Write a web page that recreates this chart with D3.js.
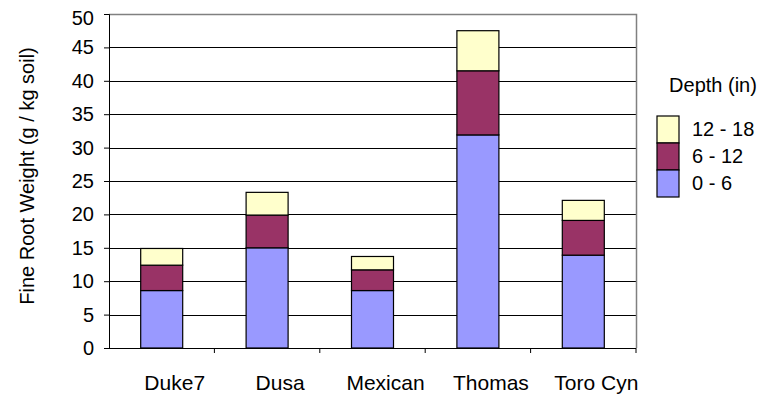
<!DOCTYPE html>
<html>
<head>
<meta charset="utf-8">
<script src="https://cdn.jsdelivr.net/npm/d3@7"></script>
<style>
  body { margin: 0; background: #fff; }
  svg text { font-family: "Liberation Sans", Arial, sans-serif; fill: #000; }
</style>
</head>
<body>
<svg id="chart" width="762" height="397"></svg>
<script>
// chart data
const sites = ["Duke7", "Dusa", "Mexican", "Thomas", "Toro Cyn"];
const depths = ["0 - 6", "6 - 12", "12 - 18"];
const depth0to6 = [8.6, 15.0, 8.6, 31.9, 13.9];
const depth6to12 = [3.8, 4.9, 3.1, 9.6, 5.2];
const depth12to18 = [2.5, 3.4, 2.0, 6.0, 3.0];
const yTicks = [0, 5, 10, 15, 20, 25, 30, 35, 40, 45, 50];
const colors = ["#9999ff", "#993366", "#ffffcc"];

let svg = d3.select("#chart");
let plotLeft = 109, plotRight = 636, plotTop = 14, plotBottom = 348;

let rows = sites.map((s, i) => ({
  site: s,
  "0 - 6": depth0to6[i],
  "6 - 12": depth6to12[i],
  "12 - 18": depth12to18[i]
}));
let stacked = d3.stack().keys(depths)(rows);

let xScale = d3.scaleBand()
  .domain(sites)
  .range([plotLeft, plotRight])
  .paddingInner(0)
  .paddingOuter(0);
let yScale = d3.scaleLinear()
  .domain([0, 50])
  .range([plotBottom, plotTop]);

// gridlines
svg.append("g")
  .selectAll("line")
  .data(yTicks.filter(d => d > 0 && d < 50))
  .join("line")
  .attr("x1", plotLeft).attr("x2", plotRight)
  .attr("y1", d => Math.round(yScale(d)) + 0.5)
  .attr("y2", d => Math.round(yScale(d)) + 0.5)
  .attr("stroke", "#000")
  .attr("stroke-width", 1);

// plot border top / right
svg.append("path")
  .attr("d", "M" + plotLeft + "," + (plotTop + 0.5) + "H" + (plotRight + 0.5) + "V" + plotBottom)
  .attr("fill", "none")
  .attr("stroke", "#808080")
  .attr("stroke-width", 1.5);

// bars
let barW = 42;
svg.append("g")
  .selectAll("g")
  .data(stacked)
  .join("g")
  .attr("fill", (d, i) => colors[i])
  .selectAll("rect")
  .data(d => d)
  .join("rect")
  .attr("x", d => xScale(d.data.site) + xScale.bandwidth() / 2 - barW / 2)
  .attr("y", d => yScale(d[1]))
  .attr("width", barW)
  .attr("height", d => yScale(d[0]) - yScale(d[1]))
  .attr("stroke", "#000")
  .attr("stroke-width", 1.2);

// y axis
let yAxis = d3.axisLeft(yScale).tickValues(yTicks).tickSize(5).tickPadding(10);
svg.append("g")
  .attr("transform", "translate(" + plotLeft + ",0)")
  .call(yAxis)
  .call(g => g.select(".domain").attr("stroke", "#000"))
  .call(g => g.selectAll("line").attr("stroke", "#000"))
  .selectAll("text")
  .attr("font-size", 20)
  .attr("font-family", "Liberation Sans, Arial, sans-serif")
  .attr("dy", d => d == 50 ? "0.52em" : "0.32em");

// x axis
let xAxis = d3.axisBottom(xScale).tickSize(0).tickPadding(27);
let xg = svg.append("g")
  .attr("transform", "translate(0," + plotBottom + ")")
  .call(xAxis);
xg.select(".domain").attr("stroke", "#000").attr("d", "M" + (plotLeft - 5) + ",0.5H" + plotRight);
xg.selectAll("text")
  .attr("font-size", 21)
  .attr("dx", 13)
  .attr("font-family", "Liberation Sans, Arial, sans-serif");
xg.selectAll(".sep")
  .data(sites)
  .join("line")
  .attr("class", "sep")
  .attr("x1", d => xScale(d) + xScale.bandwidth())
  .attr("x2", d => xScale(d) + xScale.bandwidth())
  .attr("y1", 0).attr("y2", 5)
  .attr("stroke", "#000");

// y axis title
svg.append("text")
  .attr("transform", "translate(34,176) rotate(-90)")
  .attr("text-anchor", "middle")
  .attr("font-size", 20)
  .text("Fine Root Weight (g / kg soil)");

// legend
let legend = svg.append("g").attr("transform", "translate(657,116)");
legend.append("text")
  .attr("x", 56).attr("y", -24)
  .attr("text-anchor", "middle")
  .attr("font-size", 20)
  .text("Depth (in)");
let legendKeys = depths.slice().reverse();
legend.selectAll("rect")
  .data(legendKeys)
  .join("rect")
  .attr("x", 0)
  .attr("y", (d, i) => i * 27)
  .attr("width", 22)
  .attr("height", 27)
  .attr("fill", d => colors[depths.indexOf(d)])
  .attr("stroke", "#000")
  .attr("stroke-width", 1.2);
legend.selectAll(".lbl")
  .data(legendKeys)
  .join("text")
  .attr("class", "lbl")
  .attr("x", 35)
  .attr("y", (d, i) => i * 27 + 20)
  .attr("font-size", 20)
  .text(d => d);
</script>
</body>
</html>
